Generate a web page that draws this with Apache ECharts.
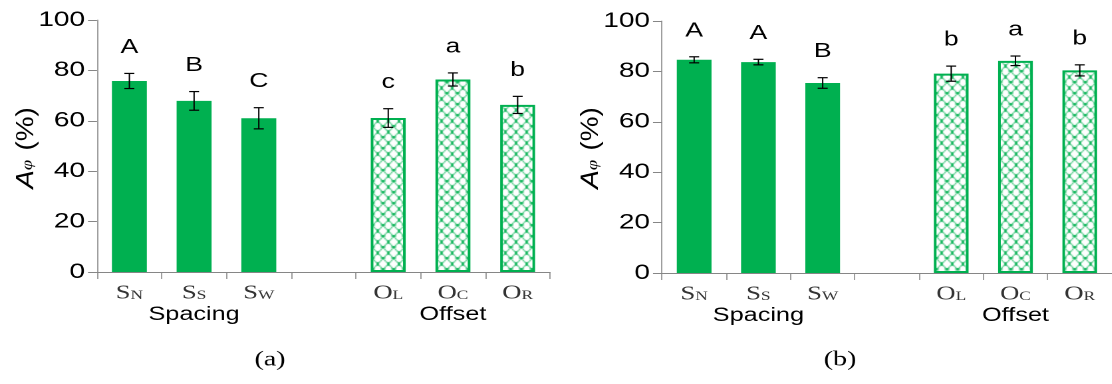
<!DOCTYPE html>
<html>
<head>
<meta charset="utf-8">
<script src="https://cdn.jsdelivr.net/npm/echarts@6/dist/echarts.min.js"></script>
<style>
html,body{margin:0;padding:0;background:#fff;overflow:hidden;}
#wrap{width:1112px;height:384px;overflow:hidden;position:relative;}
#main{width:836px;height:384px;transform:scaleX(1.33);transform-origin:0 0;}
</style>
</head>
<body>
<div id="wrap"><div id="main"></div></div>
<script>
// ---- data ----
const categoryMain = ['S', 'S', 'S', '', 'O', 'O', 'O'];
const categorySub  = ['N', 'S', 'W', '', 'L', 'C', 'R'];
const groupNames   = ['', 'Spacing', '', '', '', 'Offset', ''];
const hatched      = [false, false, false, false, true, true, true];

const valuesA  = [75.8, 67.9, 61.0, null, 61.1, 76.4, 66.3];
const errorsA  = [3.0, 3.7, 4.2, null, 3.7, 2.6, 3.4];
const lettersA = ['A', 'B', 'C', '', 'c', 'a', 'b'];

const valuesB  = [84.6, 83.7, 75.4, null, 79.1, 84.2, 80.4];
const errorsB  = [1.2, 1.1, 2.1, null, 3.0, 1.9, 2.2];
const lettersB = ['A', 'A', 'B', '', 'b', 'a', 'b'];

const yTicks = [0, 20, 40, 60, 80, 100];
const panelTags = ['(a)', '(b)'];
const yTitle = { main: 'A', sub: '\u03c6', unit: ' (%)' };

// ---- layout (the whole drawing is widened by CSS, like the reference) ----
const K = 1.33;
const GREEN = '#00b050';

function makePattern() {
  const w = 8, h = 11;
  const c = document.createElement('canvas');
  c.width = w; c.height = h;
  const g = c.getContext('2d');
  g.fillStyle = '#ffffff';
  g.fillRect(0, 0, w, h);
  g.strokeStyle = 'rgba(0,176,80,0.75)';
  g.lineWidth = 1;
  g.beginPath();
  g.moveTo(0, h / 2); g.lineTo(w / 2, 0); g.lineTo(w, h / 2); g.lineTo(w / 2, h); g.closePath();
  g.stroke();
  g.fillStyle = 'rgba(0,176,80,0.9)';
  g.fillRect(0, Math.floor(h / 2) - 1, 1.5, 2);
  g.fillRect(w - 1.5, Math.floor(h / 2) - 1, 1.5, 2);
  g.fillRect(w / 2 - 0.75, 0, 1.5, 2);
  g.fillRect(w / 2 - 0.75, h - 2, 1.5, 2);
  return c;
}
const pattern = { image: makePattern(), repeat: 'repeat' };

const chart = echarts.init(document.getElementById('main'), null, { renderer: 'canvas', devicePixelRatio: 2 });

const SANS = 'Liberation Sans, Arial, sans-serif';
const SERIF = 'Liberation Serif, Times New Roman, serif';

function xLabel(value, idx) {
  let s = '';
  if (categoryMain[idx]) s += '{m|' + categoryMain[idx] + '}{s|' + categorySub[idx] + '}';
  else s += '{m| }';
  if (groupNames[idx]) s += '\n{g|' + groupNames[idx] + '}';
  return s;
}

function makeAxes(gi) {
  return {
    x: {
      type: 'category', gridIndex: gi, data: categoryMain.map((c, i) => c + categorySub[i]),
      boundaryGap: true,
      axisLine: { lineStyle: { color: '#868686', width: 1 } },
      axisTick: { show: true, interval: 0, length: 7, lineStyle: { color: '#868686', width: 0.8 } },
      axisLabel: {
        interval: 0, margin: 11, formatter: xLabel, color: '#222',
        rich: {
          m: { fontFamily: SERIF, fontSize: 20, lineHeight: 20, verticalAlign: 'bottom', color: '#333' },
          s: { fontFamily: SERIF, fontSize: 13, lineHeight: 20, verticalAlign: 'bottom', color: '#333', padding: [0, 0, 1, 0] },
          g: { fontFamily: SANS, fontSize: 19, lineHeight: 24, color: '#000' }
        }
      },
      splitLine: { show: false }
    },
    y: {
      type: 'value', gridIndex: gi, min: 0, max: 100, interval: 20,
      axisLine: { show: true, lineStyle: { color: '#868686', width: 0.8 } },
      axisTick: { show: true, length: 9 / K, lineStyle: { color: '#868686' } },
      axisLabel: {
        margin: 12 / K, fontFamily: SANS, fontSize: 21, color: '#000',
        formatter: v => (yTicks.indexOf(v) >= 0 ? String(v) : '')
      },
      splitLine: { show: false }
    }
  };
}

function barSeries(gi, values) {
  return {
    type: 'bar', xAxisIndex: gi, yAxisIndex: gi, barWidth: '54%',
    data: values.map((v, i) => v == null ? null : {
      value: v,
      itemStyle: hatched[i]
        ? { color: pattern, borderColor: GREEN, borderWidth: 2 }
        : { color: GREEN, borderWidth: 0 }
    }),
    z: 2
  };
}

function errSeries(gi, values, errors, letters) {
  const data = [];
  values.forEach((v, i) => { if (v != null) data.push([i, v, errors[i]]); });
  return {
    type: 'custom', xAxisIndex: gi, yAxisIndex: gi, z: 5,
    data: data,
    renderItem: function (params, api) {
      const i = api.value(0), v = api.value(1), e = api.value(2);
      const top = api.coord([i, v + e]);
      const bot = api.coord([i, v - e]);
      const hw = 5 / K;
      const lv = { stroke: '#000', lineWidth: 1 };
      const lh = { stroke: '#000', lineWidth: 1.2 };
      return {
        type: 'group',
        children: [
          { type: 'line', shape: { x1: top[0], y1: top[1], x2: bot[0], y2: bot[1] }, style: lv },
          { type: 'line', shape: { x1: top[0] - hw, y1: top[1], x2: top[0] + hw, y2: top[1] }, style: lh },
          { type: 'line', shape: { x1: bot[0] - hw, y1: bot[1], x2: bot[0] + hw, y2: bot[1] }, style: lh },
          { type: 'text', x: top[0], y: top[1] - 26,
            style: { text: letters[i], align: 'center', verticalAlign: 'middle',
                     font: '20px Liberation Sans, Arial, sans-serif', fill: '#000' } }
        ]
      };
    }
  };
}

function yTitleGraphic(cx) {
  return {
    type: 'text', x: cx / K, y: 148, rotation: Math.PI / 2, scaleX: 1.55, z: 10,
    style: {
      text: '{i|' + yTitle.main + '}{p|' + yTitle.sub + '}{n|' + yTitle.unit + '}',
      align: 'center', verticalAlign: 'middle',
      rich: {
        i: { fontFamily: SANS, fontStyle: 'italic', fontSize: 18, fill: '#000', verticalAlign: 'bottom', lineHeight: 20 },
        p: { fontFamily: SERIF, fontStyle: 'italic', fontSize: 12, fill: '#000', verticalAlign: 'bottom', lineHeight: 20, padding: [0, 1, 2, 0] },
        n: { fontFamily: SANS, fontSize: 18, fill: '#000', verticalAlign: 'bottom', lineHeight: 20 }
      }
    }
  };
}

const a0 = makeAxes(0), a1 = makeAxes(1);

chart.setOption({
  animation: false,
  backgroundColor: '#fff',
  grid: [
    { left: 97 / K, top: 20, width: 453 / K, height: 252 },
    { left: 662 / K, top: 21, width: 455 / K, height: 252 }
  ],
  xAxis: [a0.x, a1.x],
  yAxis: [a0.y, a1.y],
  series: [
    barSeries(0, valuesA), errSeries(0, valuesA, errorsA, lettersA),
    barSeries(1, valuesB), errSeries(1, valuesB, errorsB, lettersB)
  ],
  graphic: [
    yTitleGraphic(25),
    yTitleGraphic(590),
    { type: 'text', x: 270 / K, y: 360, style: { text: panelTags[0], align: 'center', verticalAlign: 'middle', font: '21px Liberation Serif, Times New Roman, serif', fill: '#000' } },
    { type: 'text', x: 840 / K, y: 360, style: { text: panelTags[1], align: 'center', verticalAlign: 'middle', font: '21px Liberation Serif, Times New Roman, serif', fill: '#000' } }
  ]
});
</script>
</body>
</html>
